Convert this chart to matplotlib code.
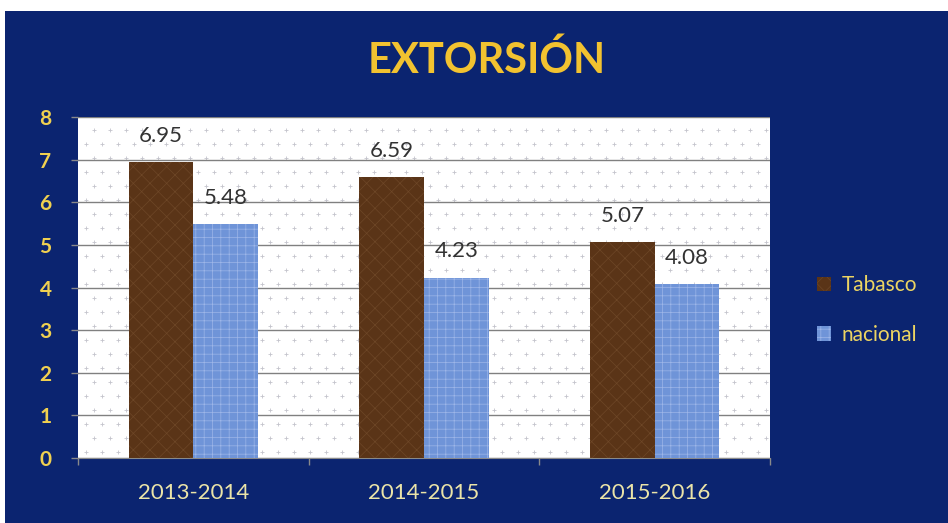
import matplotlib.pyplot as plt
import matplotlib.patches as mpatches
import numpy as np

# datos
periodos = ["2013-2014", "2014-2015", "2015-2016"]
tabasco = [6.95, 6.59, 5.07]
nacional = [5.48, 4.23, 4.08]
series = ["Tabasco", "nacional"]

azul_fondo = "#0b2470"
oro = "#f2c230"
cafe = "#5a3417"
azul_barra = "#6f94d8"

plt.rcParams['font.family'] = ['Lato', 'DejaVu Sans']

fig = plt.figure(figsize=(9.48, 5.23), dpi=100, facecolor="white")
# fondo azul (con franja blanca arriba e izquierda)
fig.patches.append(mpatches.Rectangle((5 / 948, 0), 1, 1 - 11 / 523,
                                      transform=fig.transFigure,
                                      facecolor=azul_fondo, edgecolor="none",
                                      zorder=-10))

ax_w, ax_h = 692, 341
ax = fig.add_axes([78 / 948, 1 - 458 / 523, ax_w / 948, ax_h / 523])
ax.set_facecolor("white")

# trama de puntos del fondo del área de trazado
px, py = np.meshgrid(np.arange(8, ax_w, 16), np.arange(6, ax_h, 14))
px = px + (np.arange(px.shape[0])[:, None] % 2) * 8
ax.scatter(px.ravel() / ax_w, py.ravel() / ax_h, s=5, marker="+",
           linewidths=0.6, color="#c4c4cc", transform=ax.transAxes,
           zorder=0.5, clip_on=True)

x = np.arange(len(periodos))
ancho = 0.28
plt.rcParams['hatch.linewidth'] = 0.5
b1 = ax.bar(x - ancho / 2, tabasco, ancho, color=cafe, edgecolor="#6e4727",
            linewidth=0, hatch="xx", label=series[0], zorder=3)
b2 = ax.bar(x + ancho / 2, nacional, ancho, color=azul_barra, edgecolor="#9db6e8",
            linewidth=0, hatch="++", label=series[1], zorder=3)

for barras in (b1, b2):
    for r in barras:
        ax.text(r.get_x() + r.get_width() / 2, r.get_height() + 0.38,
                f"{r.get_height():.2f}", ha="center", va="bottom",
                fontsize=16, color="#333333", zorder=4)

ax.set_xlim(-0.5, 2.5)
ax.set_ylim(0, 8)
ax.set_yticks(range(0, 9))
ax.grid(axis="y", color="#808080", linewidth=1)
ax.set_axisbelow(True)

ax.set_xticks(x)
ax.set_xticklabels(periodos, fontsize=16, color="#ebe4a8")
ax.set_xticks([-0.5, 0.5, 1.5, 2.5], minor=True)
ax.tick_params(axis="x", which="major", length=0, pad=18)
ax.tick_params(axis="x", which="minor", length=5, color="#8a8a8a", width=1)
ax.tick_params(axis="y", length=5, color="#8a8a8a", width=1, pad=14,
               labelsize=15, labelcolor="#f0d050")
for lab in ax.get_yticklabels():
    lab.set_fontweight("bold")

for lado in ("top", "right", "left"):
    ax.spines[lado].set_visible(False)
ax.spines["bottom"].set_color("#8a8a8a")

fig.text(0.513, 1 - 60 / 523, "EXTORSIÓN", ha="center", va="center",
         fontsize=30, fontweight="bold", color=oro)

leg = fig.legend(handles=[b1, b2], loc="center left",
                 bbox_to_anchor=(798 / 948, 1 - 310 / 523), frameon=False,
                 fontsize=15, labelspacing=1.4, handlelength=0.7,
                 handleheight=0.7, handletextpad=0.5)
for t in leg.get_texts():
    t.set_color("#ecd462")

fig.savefig("out.png", dpi=100, facecolor=fig.get_facecolor())
